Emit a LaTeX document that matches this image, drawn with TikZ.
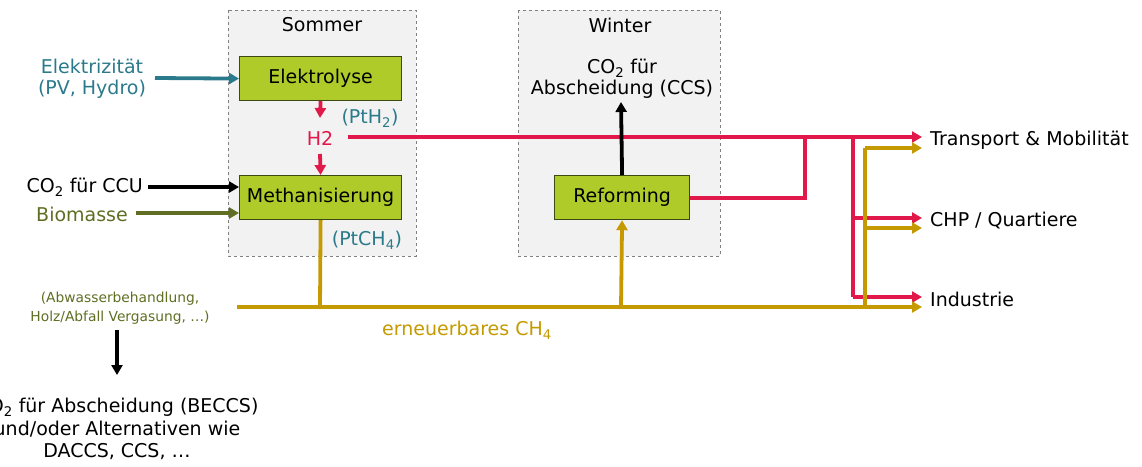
\documentclass[tikz,border=0pt]{standalone}
\usepackage{fontspec}
\setmainfont{DejaVu Sans}
\usetikzlibrary{arrows.meta}
\definecolor{lime}{HTML}{AECB2A}
\definecolor{limeborder}{HTML}{3B4A12}
\definecolor{hred}{HTML}{E0194A}
\definecolor{gold}{HTML}{C49A00}
\definecolor{teal}{HTML}{2B7A8B}
\definecolor{olive}{HTML}{5F6E22}
\definecolor{panel}{HTML}{F2F2F2}
\tikzset{
  txt/.style={font=\fontsize{19}{21}\selectfont, align=center, inner sep=0pt},
  small/.style={font=\fontsize{13.8}{19}\selectfont, align=center, inner sep=0pt},
  proc/.style={draw=limeborder, fill=lime, line width=1.2pt, minimum width=162pt, minimum height=44pt, txt, anchor=north west},
  season/.style={draw=gray, dashed, fill=panel, line width=0.7pt},
  flow/.style={line width=3.8pt, -{Triangle[length=10pt,width=11pt]}},
  plain/.style={line width=3.8pt},
}
\begin{document}
\begin{tikzpicture}[x=1pt,y=-1pt]
\useasboundingbox (0,0) rectangle (1142,466);
\clip (0,0) rectangle (1142,466);
% panels
\draw[season] (228,10) rectangle (416,256);
\draw[season] (518,10) rectangle (720,256);
\node[txt] (sommer) at (322,25) {Sommer};
\node[txt] (winter) at (620,25) {Winter};
% process boxes
\node[proc] (elek) at (239,56) {Elektrolyse};
\node[proc] (meth) at (239,175) {Methanisierung};
\node[proc, minimum width=135pt] (ref) at (554,175) {Reforming};
% texts
\node[txt, text=hred] (h2) at (320,138) {H2};
\node[txt, text=teal] (pth2) at (370,118) {(PtH\textsubscript{2})};
\node[txt, text=teal] (ptch4) at (367,240) {(PtCH\textsubscript{4})};
\node[txt, text=teal] (elec) at (92,79) {Elektrizität\\(PV, Hydro)};
\node[txt, anchor=east] (co2ccu) at (143,187) {CO\textsubscript{2} für CCU};
\node[txt, text=olive, anchor=east] (bio) at (128,214) {Biomasse};
\node[txt] (ccs) at (622,79) {CO\textsubscript{2} für\\Abscheidung (CCS)};
\node[small, text=olive] (abw) at (120,308) {(Abwasserbehandlung,\\Holz/Abfall Vergasung, …)};
\node[txt, font=\fontsize{19}{22.5}\selectfont] (beccs) at (117,429) {CO\textsubscript{2} für Abscheidung (BECCS)\\und/oder Alternativen wie\\DACCS, CCS, …};
\node[txt, text=gold] (ech4) at (467,330) {erneuerbares CH\textsubscript{4}};
\node[txt, anchor=west] (trans) at (930,140) {Transport \& Mobilität};
\node[txt, anchor=west] (chp) at (930,221) {CHP / Quartiere};
\node[txt, anchor=west] (ind) at (930,299) {Industrie};
% coordinates
\coordinate (tA) at (922,137);
\coordinate (tB) at (922,148);
\coordinate (cA) at (922,218);
\coordinate (cB) at (922,228);
\coordinate (iA) at (922,297);
\coordinate (iB) at (922,307);
% inputs
\draw[flow, teal] (155,78) -- (elek.west);
\draw[flow, black] (148,187) -- (239,187);
\draw[flow, olive] (136,213) -- (239,213);
% hydrogen
\draw[flow, hred] (elek.south) -- (320,118);
\draw[flow, hred] (320,154) -- (meth.north);
\draw[flow, hred] (348,137) -- (tA);
\draw[plain, hred] (ref.east) -| (805,137);
\draw[plain, hred] (853,137) -- (853,297);
\draw[flow, hred] (853,218) -- (cA);
\draw[flow, hred] (853,297) -- (iA);
% CCS
\draw[flow, black] (ref.north) -- (621,102);
% methane
\draw[plain, gold] (meth.south) -- (320,307);
\draw[flow, gold] (237,307) -- (iB);
\draw[flow, gold] (621,307) -- (ref.south);
\draw[plain, gold] (865,307) -- (865,148);
\draw[flow, gold] (865,148) -- (tB);
\draw[flow, gold] (865,228) -- (cB);
% BECCS
\draw[flow, black] (117,330) -- (117,375);
\end{tikzpicture}
\end{document}
